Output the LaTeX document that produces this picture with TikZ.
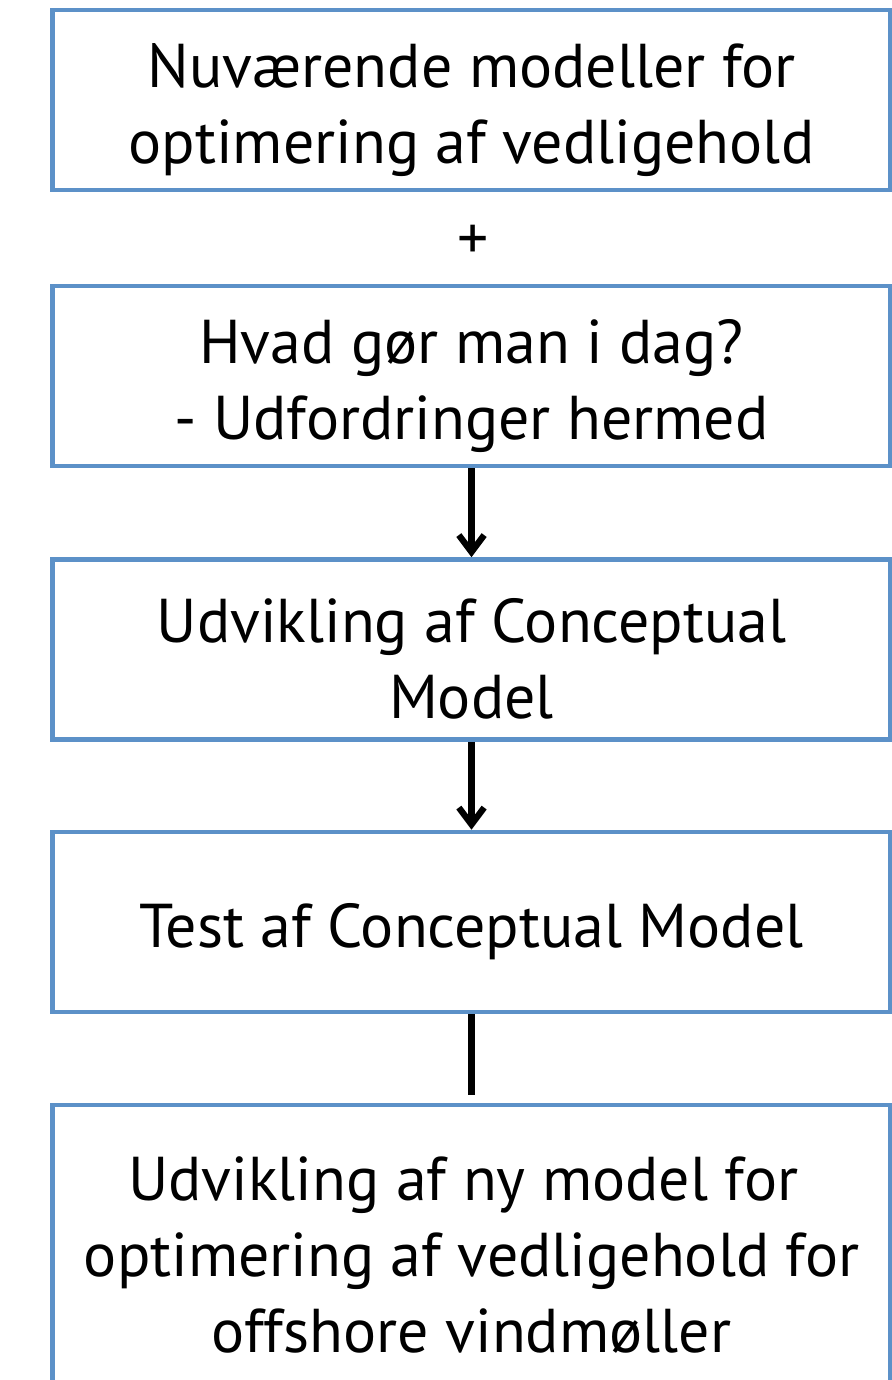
\documentclass[tikz,border=0pt]{standalone}
\usepackage{fontspec}
\setmainfont{PT Sans}
\usetikzlibrary{arrows.meta}
\definecolor{boxblue}{RGB}{92,145,200}
\newcommand{\toplift}{\rule{0pt}{45pt}}
\tikzset{
    box/.style={draw=boxblue, line width=3.2pt, rectangle, minimum height=4.5cm, minimum width=20.95cm, align=center, font=\fontsize{44}{54}\selectfont},
    flow/.style={line width=4.5pt, -{Straight Barb[length=12pt,width=18pt]}}
}

\begin{document}
\begin{tikzpicture}[x=0.025cm, y=-0.025cm]
    \useasboundingbox (0,0) rectangle (892,1380);
    \node[box] (now) at (471.5,100) {\toplift Nuværende modeller for\\optimering af vedligehold};
    \node[font=\fontsize{44}{54}\selectfont] (plus) at (473,242) {+};
    \node[box] (today) at (471.5,376) {\toplift Hvad gør man i dag?\\- Udfordringer hermed};
    \node[box] (develop) at (471.5,649.5) {\toplift Udvikling af Conceptual\\Model};
    \node[box] (test) at (471.5,922) {\toplift Test af Conceptual Model};
    \node[box, minimum height=7.5cm] (newmodel) at (471.5,1255) {Udvikling af ny model for\ \ \\optimering af vedligehold for\\offshore vindmøller};
    \draw[flow] (today) -- (develop);
    \draw[flow] (develop) -- (test);
    \draw[line width=4.5pt, shorten >=5.5pt] (test) -- (newmodel);
\end{tikzpicture}
\end{document}
